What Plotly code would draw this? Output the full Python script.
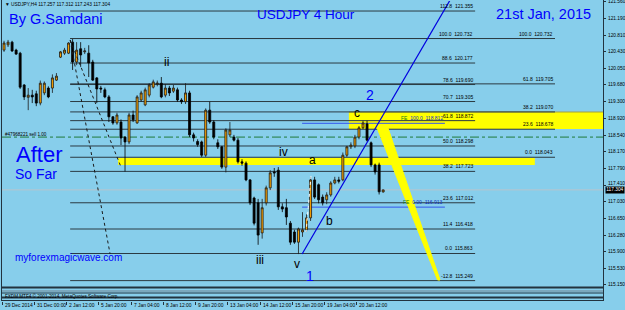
import plotly.graph_objects as go

# ---------------- data ----------------
opens = [120.47,120.59,120.65,120.47,120.40,119.68,119.40,119.45,119.48,119.27,
         119.50,119.61,119.61,119.79,120.31,120.40,120.40,120.65,120.20,120.50,
         120.43,120.40,120.20,119.84,119.61,119.57,119.41,118.96,118.82,118.84,
         118.50,118.39,119.00,118.82,119.34,119.23,119.45,119.63,119.70,119.72,
         119.45,119.61,119.54,119.57,119.34,119.30,119.50,118.55,118.40,118.39,
         118.09,119.11,118.84,118.37,118.28,117.82,118.55,118.50,118.43,117.94,
         117.91,117.53,117.12,117.01,116.33,117.01,117.35,117.71,117.75,116.92,
         116.90,116.55,116.35,116.12,116.35,116.40,116.67,117.53,117.42,117.14,
         117.08,117.19,117.46,117.53,117.53,118.09,118.28,118.30,118.50,118.71,
         118.80,118.37,117.87,117.87,117.257]
highs = [120.68,120.70,120.68,120.50,120.43,119.70,119.61,119.57,119.55,119.78,
         119.76,119.65,119.92,119.95,120.45,120.52,120.65,120.72,120.65,120.65,
         120.52,120.58,120.25,119.86,119.66,119.62,119.45,118.97,119.05,118.90,
         118.52,119.05,119.10,119.45,119.55,119.62,119.72,119.80,119.78,119.86,
         119.70,119.66,119.68,119.62,119.38,119.72,119.55,118.60,118.45,118.42,
         119.15,119.30,118.88,118.45,118.30,118.70,118.84,118.55,118.48,118.00,
         117.95,117.55,117.15,117.10,117.10,117.40,117.75,117.80,117.82,117.00,
         117.10,116.60,116.40,116.45,116.80,116.75,117.60,117.60,117.45,117.20,
         117.25,117.50,117.60,117.60,118.15,118.30,118.38,118.55,118.75,118.87,
         118.87,118.40,117.90,117.92,117.312]
lows = [120.43,120.54,120.43,120.36,119.59,119.34,119.11,119.27,119.20,119.22,
        119.45,119.38,119.50,119.77,120.29,120.36,120.38,120.02,120.13,120.09,
        120.38,119.86,119.77,119.27,119.50,119.38,118.84,118.78,118.78,118.32,
        117.72,118.34,118.84,118.80,119.30,119.20,119.40,119.60,119.65,119.38,
        119.40,119.43,119.50,119.30,119.25,119.25,118.50,118.40,118.28,118.05,
        118.05,118.80,118.45,118.23,117.78,117.70,118.50,118.40,117.90,117.85,
        117.50,116.96,116.50,116.06,116.20,116.95,117.30,117.60,116.85,116.80,
        116.51,116.06,116.08,115.85,116.24,116.35,116.60,117.10,117.00,116.95,
        116.98,117.15,117.43,117.45,117.50,118.05,118.23,118.25,118.45,118.68,
        118.40,117.82,117.65,117.20,117.243]
closes = [120.63,120.65,120.45,120.38,119.63,119.41,119.45,119.41,119.27,119.72,
          119.72,119.41,119.84,119.88,120.43,120.47,120.63,120.20,120.47,120.36,
          120.45,120.18,119.79,119.59,119.59,119.41,118.96,118.82,119.00,118.48,
          118.39,119.00,118.89,119.41,119.50,119.57,119.68,119.75,119.72,119.41,
          119.61,119.50,119.61,119.34,119.30,119.50,118.55,118.48,118.33,118.09,
          119.11,118.84,118.50,118.28,117.82,118.66,118.66,118.43,117.94,117.91,
          117.53,117.01,116.55,116.28,116.90,117.35,117.69,117.69,116.92,116.87,
          116.69,116.12,116.12,116.42,116.40,116.67,117.53,117.14,117.08,117.01,
          117.19,117.46,117.53,117.50,118.09,118.28,118.32,118.50,118.71,118.82,
          118.43,117.87,117.71,117.26,117.304]

date_ticks = [0, 8, 16, 24, 32, 40, 48, 56, 64, 72, 80, 88]
date_labels = ["29 Dec 2014", "31 Dec 00:00", "2 Jan 12:00", "5 Jan 20:00",
               "7 Jan 04:00", "8 Jan 12:00", "9 Jan 20:00", "13 Jan 04:00",
               "14 Jan 12:00", "15 Jan 20:00", "19 Jan 04:00", "20 Jan 12:00"]
price_ticks = [121.560, 121.190, 120.810, 120.430, 120.050, 119.680, 119.300,
               118.920, 118.540, 118.170, 117.790, 117.410, 117.030, 116.650,
               116.280, 115.900, 115.530, 115.150]

fib1_levels = ["112.8", "100.0", "88.6", "78.6", "70.7", "61.8", "50.0",
               "38.2", "23.6", "11.4", "0.0", "-12.8"]
fib1_prices = [121.355, 120.732, 120.177, 119.690, 119.305, 118.872, 118.298,
               117.723, 117.012, 116.418, 115.863, 115.249]
fib2_levels = ["100.0", "61.8", "38.2", "23.6", "0.0"]
fib2_prices = [120.732, 119.705, 119.070, 118.678, 118.043]
fe_levels = ["100.0", "0.00"]
fe_prices = [118.812, 116.913]
order_price = 118.50
order_label = "#47968221 sell 1.00"
bid_price = 117.304

wave_text = ["ii", "iii", "iv", "v", "a", "b", "c"]
wave_bar = [40.9, 64.0, 69.9, 73.1, 77.1, 81.1, 88.0]
wave_price = [120.20, 115.72, 118.16, 115.63, 117.98, 116.60, 119.05]
count_text = ["1", "2"]
count_bar = [76.4, 91.2]
count_price = [115.35, 119.45]

# drawing anchors (bar position, price)
trend_bar = [74.4, 111.1]
trend_price = [115.852, 121.605]
dotA_bar = [16.9, 26.8]
dotA_price = [120.699, 115.852]
dotB_bar = [16.9, 29.5]
dotB_price = [120.699, 117.823]
white_bar = [76.6, 75.4]
white_price = [117.62, 116.35]
taper_bar = [92.9, 95.6, 108.6, 108.0, 92.9]
taper_price = [118.729, 118.729, 115.263, 115.263, 118.729]
band_lo = dict(x0=28.8, x1=132.1, y0=117.868, y1=118.026)
band_hi = dict(x0=86.0, x1=149.0, y0=118.683, y1=119.068)
fib_start = 16.9
fib1_end = 117.3
fib2_end = 137.1
fe_start, fe_end = 74.4, 109.8

# ---------------- figure ----------------
W, H = 625, 310
def px(x): return x / W
def py(y): return 1 - y / H

BG = "#87CEEB"
FRAME = "#22333f"
LINE = "#2b3a42"
FONT = "Liberation Sans, Arial, sans-serif"
XR = [0, 149.0]
YR = [115.127, 121.582]
TICK_SIZE = 4.8

xs = [k + 0.5 for k in range(len(opens))]

fig = go.Figure()

fig.add_trace(go.Candlestick(
    x=xs, open=opens, high=highs, low=lows, close=closes,
    increasing=dict(fillcolor="#FFA500", line=dict(color="#1a1a1a", width=0.8)),
    decreasing=dict(fillcolor="#000000", line=dict(color="#000000", width=0.8)),
    whiskerwidth=0, hoverinfo="skip", xaxis="x", yaxis="y"))

# yellow tapered projection
fig.add_trace(go.Scatter(x=taper_bar, y=taper_price, fill="toself", mode="lines",
                         fillcolor="#FFFF00", line=dict(color="#FFFF00", width=1),
                         hoverinfo="skip"))
# trend line and dotted lines
fig.add_trace(go.Scatter(x=trend_bar, y=trend_price, mode="lines",
                         line=dict(color="#0000E0", width=1.2), hoverinfo="skip"))
fig.add_trace(go.Scatter(x=dotA_bar, y=dotA_price, mode="lines",
                         line=dict(color="#1a1a1a", width=1, dash="dot"), hoverinfo="skip"))
fig.add_trace(go.Scatter(x=dotB_bar, y=dotB_price, mode="lines",
                         line=dict(color="#1a1a1a", width=1, dash="dot"), hoverinfo="skip"))
fig.add_trace(go.Scatter(x=white_bar, y=white_price, mode="lines",
                         line=dict(color="#ffffff", width=1, dash="dot"), hoverinfo="skip"))

shapes = []
# yellow bands
for b in (band_lo, band_hi):
    shapes.append(dict(type="rect", xref="x", yref="y", layer="below",
                       fillcolor="#FFFF00", line=dict(width=0), **b))
shapes.append(dict(type="line", xref="x", yref="y", layer="below",
                   x0=band_hi["x0"], x1=band_hi["x1"], y0=band_hi["y1"], y1=band_hi["y1"],
                   line=dict(color="#a0a040", width=1)))
# fib lines
for p in fib1_prices:
    shapes.append(dict(type="line", xref="x", yref="y", layer="below",
                       x0=fib_start, x1=fib1_end, y0=p, y1=p, line=dict(color=LINE, width=1)))
for p in fib2_prices:
    shapes.append(dict(type="line", xref="x", yref="y", layer="below",
                       x0=fib_start, x1=fib2_end, y0=p, y1=p, line=dict(color=LINE, width=1)))
for p in fe_prices:
    shapes.append(dict(type="line", xref="x", yref="y", layer="below",
                       x0=fe_start, x1=fe_end, y0=p, y1=p, line=dict(color="#3355ee", width=1)))
# order line & bid line
shapes.append(dict(type="line", xref="x", yref="y", layer="below", x0=XR[0], x1=XR[1],
                   y0=order_price, y1=order_price,
                   line=dict(color="#1f7a3a", width=1, dash="dashdot")))
shapes.append(dict(type="line", xref="x", yref="y", layer="below", x0=XR[0], x1=XR[1],
                   y0=bid_price, y1=bid_price, line=dict(color="#b8c4cc", width=1)))
# frame
for (y, w, c) in [(287.5, 2, FRAME), (291, 1, "#6e8290"), (293, 1, FRAME),
                  (297.5, 2, FRAME), (300.5, 1, FRAME)]:
    shapes.append(dict(type="line", xref="paper", yref="paper", x0=px(2), x1=px(603),
                       y0=py(y), y1=py(y), line=dict(color=c, width=w)))
shapes.append(dict(type="line", xref="paper", yref="paper", x0=px(1.5), x1=px(1.5),
                   y0=py(0), y1=py(301), line=dict(color=FRAME, width=1)))
shapes.append(dict(type="line", xref="paper", yref="paper", x0=px(603.5), x1=px(603.5),
                   y0=py(0), y1=py(301), line=dict(color=FRAME, width=1)))

ann = []
def txt(x, y, t, size, color="#0000FF", xanchor="left", **kw):
    ann.append(dict(x=px(x), y=py(y), xref="paper", yref="paper", text=t, showarrow=False,
                    xanchor=xanchor, yanchor="middle", font=dict(family=FONT, size=size, color=color),
                    **kw))

txt(7, 19, "By G.Samdani", 14.5)
txt(255, 15, "USDJPY 4 Hour", 13.5)
txt(494, 14, "21st Jan, 2015", 14.5)
txt(14, 154, "After", 22)
txt(13, 174, "So Far", 14)
txt(13, 257, "myforexmagicwave.com", 10)
txt(3, 5, "\u25BC USDJPY,H4 %.3f %.3f %.3f %.3f" % (opens[-1], highs[-1], lows[-1], closes[-1]),
    4.8, color="#000000")
txt(3, 295.5, "FXDM MTF4 \u00a9 2001-2014, MetaQuotes Software Corp.", 4.6, color="#000000")
txt(3, 134, order_label, 4.6, color="#000000")

def dann(x, y, t, size, color, xanchor="center", yanchor="middle", xref="x"):
    ann.append(dict(x=x, y=y, xref=xref, yref="y", text=t, showarrow=False,
                    xanchor=xanchor, yanchor=yanchor,
                    font=dict(family=FONT, size=size, color=color)))

for t, b, p in zip(wave_text, wave_bar, wave_price):
    dann(b, p, t, 12, "#000000")
for t, b, p in zip(count_text, count_bar, count_price):
    dann(b, p, t, 14, "#0000FF")

for lv, p in zip(fib1_levels, fib1_prices):
    dann(fib1_end, p, "%s  %.3f" % (lv, p), 5, "#000000", xanchor="right", yanchor="bottom")
for lv, p in zip(fib2_levels, fib2_prices):
    dann(fib2_end, p, "%s  %.3f" % (lv, p), 5, "#000000", xanchor="right", yanchor="bottom")
for lv, p in zip(fe_levels, fe_prices):
    dann(fe_end, p, "<span style='color:#1a7a1a'>FE</span>  %s  %.3f" % (lv, p), 5,
         "#1030c0", xanchor="right", yanchor="bottom")

# date labels
for v, t in zip(date_ticks, date_labels):
    ann.append(dict(x=v, y=py(305), xref="x2", yref="paper", text=t, showarrow=False,
                    xanchor="left", yanchor="middle", xshift=0.5,
                    font=dict(family=FONT, size=4.9, color="#000000")))

# right price scale labels (written as annotations so they stay inside the window;
# the one next to the current-price box is nudged up as in the terminal)
bid_gap = 0.12
for v in price_ticks:
    yv = v + (0.03 if abs(v - bid_price) < bid_gap else 0.0)
    ann.append(dict(x=px(606), y=yv, xref="paper", yref="y", text="%.3f" % v,
                    showarrow=False, xanchor="left", yanchor="middle",
                    font=dict(family=FONT, size=TICK_SIZE, color="#000000")))
# current price box
ann.append(dict(x=px(604.5), y=bid_price, xref="paper", yref="y", text="%.3f" % bid_price,
                showarrow=False, xanchor="left", yanchor="middle", bgcolor="#000000",
                borderpad=0.3, font=dict(family=FONT, size=4.8, color="#ffffff")))

fig.update_layout(
    width=W, height=H, margin=dict(l=0, r=0, t=0, b=0),
    paper_bgcolor=BG, plot_bgcolor=BG, showlegend=False,
    shapes=shapes, annotations=ann,
    xaxis=dict(domain=[px(2), px(603)], range=XR, showticklabels=False, showgrid=False,
               zeroline=False, ticks="", rangeslider=dict(visible=False), anchor="y"),
    yaxis=dict(domain=[py(286), py(1)], range=YR, side="right", anchor="x",
               tickvals=price_ticks, showticklabels=False,
               ticks="outside", ticklen=2, tickcolor=FRAME, showgrid=False,
               zeroline=False, showline=False, automargin=False),
    xaxis2=dict(domain=[px(2), px(603)], range=XR, anchor="y2", tickvals=date_ticks,
                showticklabels=False, ticks="outside", ticklen=3, tickcolor=FRAME,
                showgrid=False, zeroline=False, automargin=False),
    yaxis2=dict(domain=[py(300.5), py(288)], range=[0, 1], visible=False),
)

fig.write_html("out.html")
